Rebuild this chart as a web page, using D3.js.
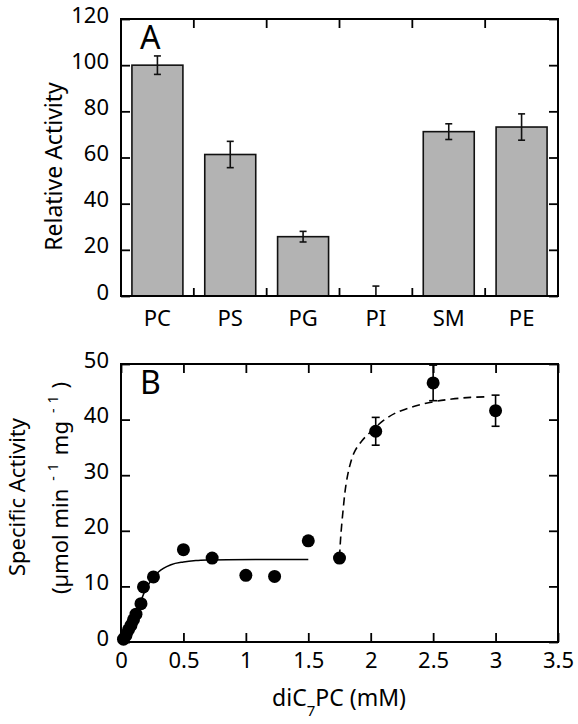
<!DOCTYPE html>
<html><head><meta charset="utf-8">
<script src="https://cdn.jsdelivr.net/npm/d3@7"></script>
<style>body{margin:0;background:#fff}svg{display:block}text{font-family:"Noto Sans",sans-serif;fill:#000}</style>
</head><body><svg id="c" width="578" height="724"></svg>
<script>
// Panel A data
const lipids = ["PC","PS","PG","PI","SM","PE"];
const relActivity = [100, 61.3, 25.7, 0, 71.2, 73.2];
const relError = [4, 5.7, 2.3, 4.3, 3.4, 5.7];
const yTicksA = [0,20,40,60,80,100,120];

// Panel B data
const conc = [0.02,0.04,0.06,0.08,0.10,0.12,0.16,0.18,0.26,0.5,0.73,1.0,1.23,1.5,1.75,2.04,2.5,3.0];
const specAct = [0.5,1.2,2.2,3.0,4.0,5.0,6.9,9.9,11.7,16.6,15.1,12.0,11.8,18.2,15.1,37.9,46.6,41.6];
const specErr = [0,0,0,0,0,0,0,0,0,0,0,0,0,0,0,2.5,3.2,2.8];
const fitSolidX = [0,0.05,0.1,0.15,0.2,0.25,0.3,0.4,0.5,0.6,0.7,0.85,1.5];
const fitSolidY = [0,1.2,3.5,6.8,9.6,11.3,12.6,13.9,14.4,14.65,14.75,14.8,14.85];
const fitDashX = [1.75,1.76,1.78,1.80,1.83,1.87,1.93,2.0,2.1,2.2,2.35,2.5,2.65,2.8,2.92];
const fitDashY = [15.2,19,24,28,31.5,34.2,36.2,37.8,39.8,41.2,42.4,43.2,43.7,44.0,44.1];
const xTicksB = [0,0.5,1,1.5,2,2.5,3,3.5];
const yTicksB = [0,10,20,30,40,50];

const svg = d3.select("#c");
const L = 121, R = 558;
const FS = 22, TS = 23;

function styleAxis(a){
  a.select(".domain").remove();
  a.selectAll("line").attr("stroke","#000").attr("stroke-width",1.8);
  a.selectAll("text").style("font-size", FS+"px").style("font-family","Noto Sans");
}

// ---------- Panel A ----------
const aTop = 19, aBot = 296;
const xA = d3.scaleBand().domain(lipids).range([L, R]).paddingInner(0.3).paddingOuter(0.15);
const yA = d3.scaleLinear().domain([0,120]).range([aBot, aTop]);
const gA = svg.append("g");

gA.selectAll("rect.bar").data(lipids).join("rect")
  .attr("x", d => xA(d)).attr("width", xA.bandwidth())
  .attr("y", (d,i) => yA(relActivity[i])).attr("height", (d,i) => yA(0) - yA(relActivity[i]))
  .attr("fill", "#b3b3b3").attr("stroke", "#111").attr("stroke-width", 1.6);

const errA = gA.selectAll("g.err").data(lipids).join("g");
errA.each(function(d,i){
  const g = d3.select(this), cx = xA(d) + xA.bandwidth()/2;
  const hi = relActivity[i] + relError[i], lo = Math.max(0, relActivity[i] - relError[i]);
  g.append("line").attr("x1",cx).attr("x2",cx).attr("y1",yA(hi)).attr("y2",yA(lo));
  g.append("line").attr("x1",cx-3.5).attr("x2",cx+3.5).attr("y1",yA(hi)).attr("y2",yA(hi));
  if (relActivity[i] - relError[i] > 0)
    g.append("line").attr("x1",cx-3.5).attr("x2",cx+3.5).attr("y1",yA(lo)).attr("y2",yA(lo));
});
errA.selectAll("line").attr("stroke","#111").attr("stroke-width",1.6);

const bounds = lipids.slice(1).map(d => xA(d) - xA.step()*xA.paddingInner()/2);
gA.selectAll("line.bt").data(bounds).join("line")
  .attr("x1", d=>d).attr("x2", d=>d).attr("y1", aTop).attr("y2", aTop+9)
  .attr("stroke","#000").attr("stroke-width",1.8);
gA.selectAll("line.bb").data(bounds).join("line")
  .attr("x1", d=>d).attr("x2", d=>d).attr("y1", aBot).attr("y2", aBot-8)
  .attr("stroke","#000").attr("stroke-width",1.8);

const axLA = gA.append("g").attr("transform",`translate(${L},0)`)
  .call(d3.axisLeft(yA).tickValues(yTicksA).tickSizeInner(-9).tickSizeOuter(0).tickPadding(12));
const axRA = gA.append("g").attr("transform",`translate(${R},0)`)
  .call(d3.axisRight(yA).tickValues(yTicksA).tickSizeInner(-9).tickSizeOuter(0).tickFormat(""));
const axBA = gA.append("g").attr("transform",`translate(0,${aBot})`)
  .call(d3.axisBottom(xA).tickSize(0).tickPadding(14));
[axLA, axRA, axBA].forEach(styleAxis);
axLA.selectAll("text").attr("dy","0.14em");
gA.append("rect").attr("x",L).attr("y",aTop).attr("width",R-L).attr("height",aBot-aTop)
  .attr("fill","none").attr("stroke","#000").attr("stroke-width",2);
gA.append("text").attr("x",140).attr("y",49).style("font-size","32px").text("A");
gA.append("text").attr("transform","translate(62,166.5) rotate(-90)").attr("text-anchor","middle")
  .style("font-size", TS+"px").text("Relative Activity");

// ---------- Panel B ----------
const bTop = 364, bBot = 642;
const xB = d3.scaleLinear().domain([0,3.5]).range([L, R]);
const yB = d3.scaleLinear().domain([0,50]).range([bBot, bTop]);
const gB = svg.append("g");

const axLB = gB.append("g").attr("transform",`translate(${L},0)`)
  .call(d3.axisLeft(yB).tickValues(yTicksB).tickSizeInner(-9).tickSizeOuter(0).tickPadding(12));
const axRB = gB.append("g").attr("transform",`translate(${R},0)`)
  .call(d3.axisRight(yB).tickValues(yTicksB).tickSizeInner(-9).tickSizeOuter(0).tickFormat(""));
const axBB = gB.append("g").attr("transform",`translate(0,${bBot})`)
  .call(d3.axisBottom(xB).tickValues(xTicksB).tickSizeInner(-9).tickSizeOuter(0).tickPadding(10).tickFormat(d => String(d)));
const axTB = gB.append("g").attr("transform",`translate(0,${bTop})`)
  .call(d3.axisTop(xB).tickValues(xTicksB).tickSizeInner(-9).tickSizeOuter(0).tickFormat(""));
[axLB, axRB, axBB, axTB].forEach(styleAxis);
axLB.selectAll("text").attr("dy","0.14em");

const line = d3.line().x(d => xB(d[0])).y(d => yB(d[1])).curve(d3.curveMonotoneX);
gB.append("path").datum(fitSolidX.map((x,i)=>[x, fitSolidY[i]])).attr("d", line)
  .attr("fill","none").attr("stroke","#000").attr("stroke-width",1.5);
const lineD = d3.line().x(d => xB(d[0])).y(d => yB(d[1])).curve(d3.curveCatmullRom);
gB.append("path").datum(fitDashX.map((x,i)=>[x, fitDashY[i]])).attr("d", lineD)
  .attr("fill","none").attr("stroke","#000").attr("stroke-width",1.6).attr("stroke-dasharray","8,5");

const errB = gB.selectAll("g.eb").data(conc.map((c,i)=>i).filter(i => specErr[i] > 0)).join("g");
errB.each(function(i){
  const g = d3.select(this), cx = xB(conc[i]);
  const hi = specAct[i] + specErr[i], lo = specAct[i] - specErr[i];
  g.append("line").attr("x1",cx).attr("x2",cx).attr("y1",yB(hi)).attr("y2",yB(lo));
  g.append("line").attr("x1",cx-4).attr("x2",cx+4).attr("y1",yB(hi)).attr("y2",yB(hi));
  g.append("line").attr("x1",cx-4).attr("x2",cx+4).attr("y1",yB(lo)).attr("y2",yB(lo));
});
errB.selectAll("line").attr("stroke","#000").attr("stroke-width",1.6);

gB.selectAll("circle").data(conc).join("circle")
  .attr("cx", d => xB(d)).attr("cy", (d,i) => yB(specAct[i])).attr("r", 6.5).attr("fill","#000");

gB.append("rect").attr("x",L).attr("y",bTop).attr("width",R-L).attr("height",bBot-bTop)
  .attr("fill","none").attr("stroke","#000").attr("stroke-width",2);
gB.append("text").attr("x",140).attr("y",394).style("font-size","32px").text("B");

gB.append("text").attr("transform","translate(25,497) rotate(-90)").attr("text-anchor","middle")
  .style("font-size","22px").text("Specific Activity");
const t2 = gB.append("text").attr("transform","translate(68,488) rotate(-90)").attr("text-anchor","middle")
  .style("font-size", "22px");
t2.append("tspan").text("(\u00B5mol min");
t2.append("tspan").attr("dx",8).attr("dy",-10).style("font-size","14px").text("-");
t2.append("tspan").attr("dx",5).style("font-size","14px").text("1");
t2.append("tspan").attr("dx",8).attr("dy",10).text("mg");
t2.append("tspan").attr("dx",8).attr("dy",-10).style("font-size","14px").text("-");
t2.append("tspan").attr("dx",5).style("font-size","14px").text("1");
t2.append("tspan").attr("dx",7).attr("dy",10).text(")");

const xt = gB.append("text").attr("x",339).attr("y",706).attr("text-anchor","middle").style("font-size", TS+"px");
xt.append("tspan").text("diC");
xt.append("tspan").attr("dy",10).style("font-size","15px").text("7");
xt.append("tspan").attr("dy",-10).text("PC (mM)");
</script></body></html>
